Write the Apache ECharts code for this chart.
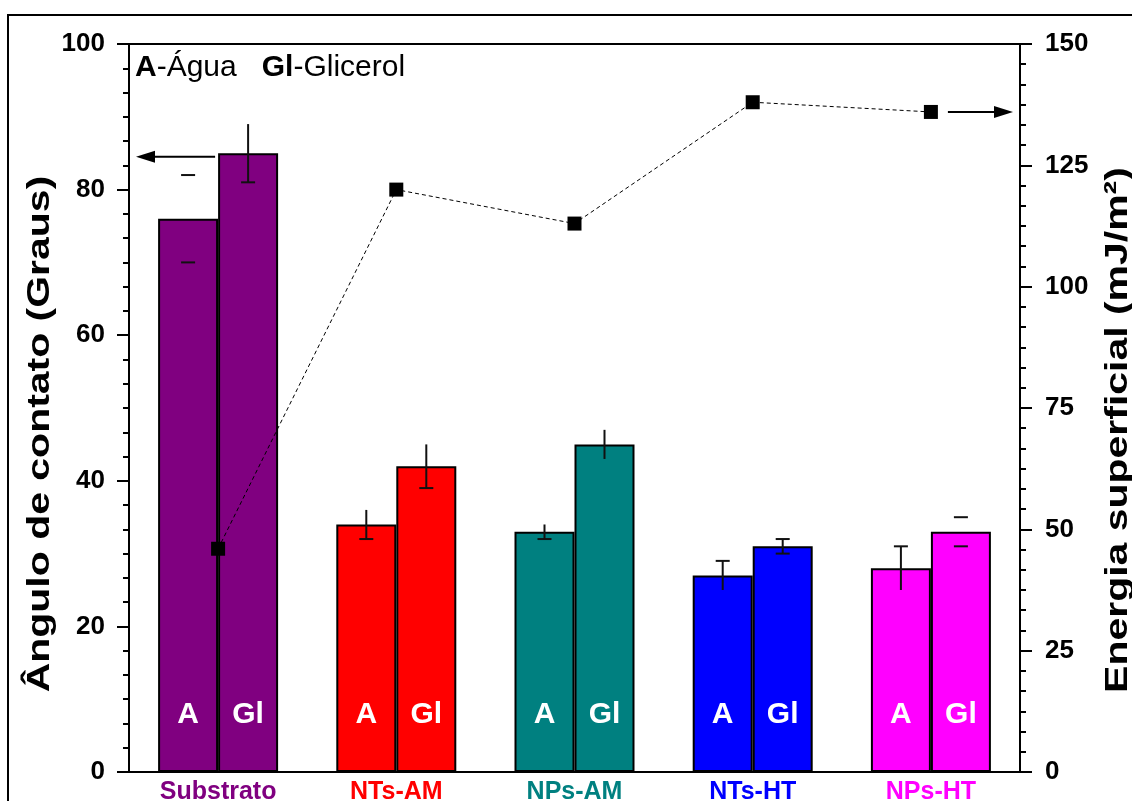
<!DOCTYPE html>
<html>
<head>
<meta charset="utf-8">
<script src="https://cdn.jsdelivr.net/npm/echarts@6/dist/echarts.min.js"></script>
<style>
  html, body { margin: 0; padding: 0; background: #fff; }
  #chart { width: 1132px; height: 801px; }
</style>
</head>
<body>
<div id="chart"></div>
<script>
// Sample groups and their colours
const categories = ['Substrato', 'NTs-AM', 'NPs-AM', 'NTs-HT', 'NPs-HT'];
const groupColors = ['#800080', '#FF0000', '#008080', '#0000FF', '#FF00FF'];

// Contact angle (degrees) with water and glycerol, plus their error
const aguaAngle = [76, 34, 33, 27, 28];
const aguaErr = [6, 2, 1, 2, 3];
const glicerolAngle = [85, 42, 45, 31, 33];
const glicerolErr = [4, 3, 2, 1, 2];

// Which parts of each error bar are drawn: L = stem, T = top cap, B = bottom cap
const aguaErrParts = ['TB', 'LB', 'LB', 'LT', 'LT'];
const glicerolErrParts = ['LB', 'LB', 'L', 'LTB', 'TB'];

// Surface energy (mJ/m²)
const energy = [46, 120, 113, 138, 136];

// Axis ranges
const angleTicks = [0, 20, 40, 60, 80, 100];
const energyTicks = [0, 25, 50, 75, 100, 125, 150];

const BAR_W = 60;
const FONT = '"Liberation Sans", Arial, sans-serif';
const chart = echarts.init(document.getElementById('chart'));

function errorSeries(values, errs, parts, offset) {
  return {
    type: 'custom',
    xAxisIndex: 0,
    yAxisIndex: 0,
    z: 10,
    silent: true,
    data: values.map((v, i) => [i, v, errs[i]]),
    renderItem: function (params, api) {
      const i = api.value(0), v = api.value(1), e = api.value(2);
      const part = parts[params.dataIndex];
      const hi = api.coord([i, v + e]);
      const lo = api.coord([i, v - e]);
      const x = hi[0] + offset;
      const st = { stroke: '#111', lineWidth: 2 };
      const children = [];
      if (part.indexOf('L') >= 0) children.push({ type: 'line', shape: { x1: x, y1: hi[1], x2: x, y2: lo[1] }, style: st });
      if (part.indexOf('T') >= 0) children.push({ type: 'line', shape: { x1: x - 7, y1: hi[1], x2: x + 7, y2: hi[1] }, style: st });
      if (part.indexOf('B') >= 0) children.push({ type: 'line', shape: { x1: x - 7, y1: lo[1], x2: x + 7, y2: lo[1] }, style: st });
      return { type: 'group', children: children };
    }
  };
}

const barLabel = (txt) => ({
  show: true, position: 'insideBottom', distance: 42, formatter: txt,
  color: '#fff', fontSize: 30, fontWeight: 'bold', fontFamily: FONT
});

const valueAxis = (ticks, interval, position, margin) => ({
  type: 'value', min: ticks[0], max: ticks[ticks.length - 1], interval: interval,
  position: position,
  axisLine: { show: true, lineStyle: { color: '#000', width: 2 } },
  axisTick: { show: true, inside: false, length: 12, lineStyle: { color: '#000', width: 2 } },
  minorTick: { show: true, splitNumber: 6, length: 6, lineStyle: { color: '#000', width: 2 } },
  splitLine: { show: false },
  axisLabel: { margin: margin, fontSize: 26, fontWeight: 'bold', color: '#000', fontFamily: FONT }
});

const option = {
  backgroundColor: '#fff',
  animation: false,
  grid: {
    left: 129, right: 112, top: 44, bottom: 29,
    outerBoundsMode: 'none', containLabel: false,
    show: true, borderColor: '#000', borderWidth: 2, backgroundColor: 'transparent'
  },
  xAxis: {
    type: 'category',
    data: categories,
    axisLine: { lineStyle: { color: '#000', width: 2 } },
    axisTick: { show: false },
    axisLabel: {
      margin: 8,
      fontSize: 25, fontWeight: 'bold', fontFamily: FONT,
      color: (val, idx) => groupColors[idx]
    }
  },
  yAxis: [
    valueAxis(angleTicks, 20, 'left', 24),
    valueAxis(energyTicks, 25, 'right', 25)
  ],
  series: [
    {
      name: 'Água', type: 'bar', barWidth: BAR_W, barGap: '0%',
      data: aguaAngle.map((v, i) => ({ value: v, itemStyle: { color: groupColors[i] } })),
      itemStyle: { borderColor: '#000', borderWidth: 2 },
      label: barLabel('A')
    },
    {
      name: 'Glicerol', type: 'bar', barWidth: BAR_W, barGap: '0%',
      data: glicerolAngle.map((v, i) => ({ value: v, itemStyle: { color: groupColors[i] } })),
      itemStyle: { borderColor: '#000', borderWidth: 2 },
      label: barLabel('Gl')
    },
    errorSeries(aguaAngle, aguaErr, aguaErrParts, -BAR_W / 2),
    errorSeries(glicerolAngle, glicerolErr, glicerolErrParts, BAR_W / 2),
    {
      name: 'Energia', type: 'line', yAxisIndex: 1, z: 12,
      data: energy,
      symbol: 'rect', symbolSize: 14,
      itemStyle: { color: '#000' },
      lineStyle: { color: '#000', width: 1, type: [4, 3] }
    }
  ]
};
chart.setOption(option);

// Arrows pointing each data set to its own axis, plus titles and key
function arrow(x1, x2, y) {
  const dir = x2 < x1 ? -1 : 1;
  return {
    type: 'group', children: [
      { type: 'line', shape: { x1: x1, y1: y, x2: x2 - dir * 14, y2: y }, style: { stroke: '#000', lineWidth: 2 } },
      { type: 'polygon', shape: { points: [[x2, y], [x2 - dir * 19, y - 6], [x2 - dir * 19, y + 6]] }, style: { fill: '#000' } }
    ]
  };
}
const cx0 = chart.convertToPixel({ xAxisIndex: 0 }, 0);
const cx4 = chart.convertToPixel({ xAxisIndex: 0 }, 4);
const yLeft = chart.convertToPixel({ yAxisIndex: 0 }, 84.5);
const yRight = chart.convertToPixel({ yAxisIndex: 1 }, energy[4]);
const gridLeft = 129;
const gridRight = 1132 - 112;

chart.setOption({
  graphic: [
    { type: 'rect', shape: { x: 8, y: 15, width: 1200, height: 900 }, style: { fill: 'none', stroke: '#000', lineWidth: 2 }, silent: true, z: 0 },
    arrow(cx0 - 3, gridLeft + 7, yLeft),
    arrow(cx4 + 17, gridRight - 7, yRight),
    {
      type: 'text', x: 135, y: 68,
      style: {
        text: '{b|A}-Água   {b|Gl}-Glicerol',
        font: '30px ' + FONT,
        fill: '#000', verticalAlign: 'middle', align: 'left',
        rich: { b: { fontWeight: 'bold', fontSize: 30, fontFamily: FONT } }
      }
    },
    {
      type: 'text', x: 40, y: 434, rotation: Math.PI / 2, scaleX: 1.28,
      style: {
        text: 'Ângulo de contato (Graus)',
        font: 'bold 32px ' + FONT,
        fill: '#000', align: 'center', verticalAlign: 'middle'
      }
    },
    {
      type: 'text', x: 1118, y: 430, rotation: Math.PI / 2, scaleX: 1.28,
      style: {
        text: 'Energia superficial (mJ/m²)',
        font: 'bold 32px ' + FONT,
        fill: '#000', align: 'center', verticalAlign: 'middle'
      }
    }
  ]
});
</script>
</body>
</html>
